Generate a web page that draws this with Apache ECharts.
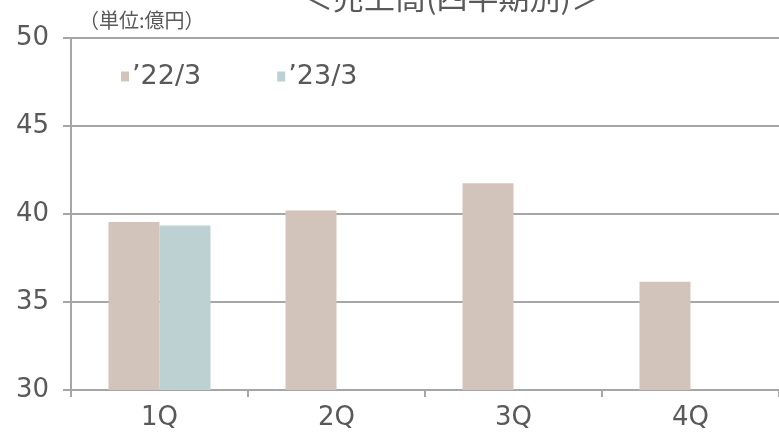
<!DOCTYPE html>
<html>
<head>
<meta charset="utf-8">
<script src="https://cdn.jsdelivr.net/npm/echarts@6/dist/echarts.min.js"></script>
<style>html,body{margin:0;padding:0;background:#fff}#c{width:779px;height:432px}</style>
</head>
<body>
<div id="c"></div>
<script>
const categories = ['1Q', '2Q', '3Q', '4Q'];
const seriesNames = ['’22/3', '’23/3'];
const values2022 = [39.55, 40.2, 41.75, 36.15];
const values2023 = [39.35, null, null, null];
const yTicks = [30, 35, 40, 45, 50];
const titleText = '＜売上高(四半期別)＞';
const unitText = '（単位:億円）';

const font = 'DejaVu Sans';
const textColor = '#595959';
const lineColor = '#a6a6a6';

const chart = echarts.init(document.getElementById('c'), null, {renderer: 'canvas'});
chart.setOption({
  animation: false,
  backgroundColor: '#ffffff',
  graphic: [
    {type: 'text', x: 452, y: 13,
     style: {text: titleText, font: '31px "Noto Sans CJK JP"', fill: textColor, textAlign: 'center', textVerticalAlign: 'bottom'}},
    {type: 'text', x: 79, y: 10,
     style: {text: unitText, font: '20px "Noto Sans CJK JP"', fill: textColor}}
  ],
  legend: {
    left: 116, top: 58,
    itemWidth: 8, itemHeight: 10, itemGap: 76,
    icon: 'rect',
    textStyle: {fontFamily: font, fontSize: 27, color: textColor, padding: [0,0,0,-2]},
    data: seriesNames
  },
  grid: {left: 71, top: 38, width: 709, bottom: 42, containLabel: false},
  xAxis: {
    type: 'category',
    data: categories,
    axisLine: {lineStyle: {color: lineColor, width: 2}},
    axisTick: {show: true, length: 7, lineStyle: {color: lineColor, width: 2}},
    axisLabel: {fontFamily: font, fontSize: 26, color: textColor, margin: 15}
  },
  yAxis: {
    type: 'value',
    min: yTicks[0], max: yTicks[yTicks.length - 1], interval: 5,
    axisLine: {show: true, lineStyle: {color: lineColor, width: 2}},
    axisTick: {show: true, length: 8, lineStyle: {color: lineColor, width: 2}},
    axisLabel: {fontFamily: font, fontSize: 26, color: textColor, margin: 22},
    splitLine: {show: true, lineStyle: {color: lineColor, width: 2}}
  },
  series: [
    {name: seriesNames[0], type: 'bar', data: values2022, barWidth: 51, barGap: '0%',
     itemStyle: {color: '#d3c4bb'}},
    {name: seriesNames[1], type: 'bar', data: values2023, barWidth: 51, barGap: '0%',
     itemStyle: {color: '#bdd1d3'}}
  ]
});
</script>
</body>
</html>
